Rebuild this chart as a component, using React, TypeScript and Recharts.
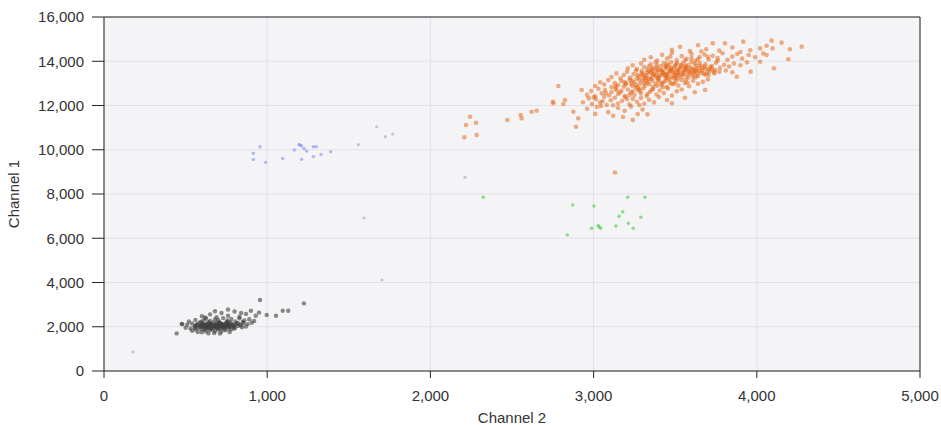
import React from 'react';
import { ScatterChart, Scatter, XAxis, YAxis, CartesianGrid, Label, ReferenceLine } from 'recharts';

const xTicks = [0, 1000, 2000, 3000, 4000, 5000];
const yTicks = [0, 2000, 4000, 6000, 8000, 10000, 12000, 14000, 16000];

const grayPoints: [number, number][] = [
  [540,1820],[575,1760],[600,1880],[625,1790],[650,1850],[675,1720],[700,1870],[720,1780],[745,1840],[770,1760],[600,1750],[680,1810],[640,1700],[710,1690],[560,1870],
  [500,1960],[530,1920],[555,2010],[580,1940],[600,2040],[615,1910],[630,1990],[645,2030],[660,1930],[675,2000],[690,1950],[705,2040],[720,1910],[735,1990],[750,2020],[765,1940],[780,2000],[800,1960],[820,2030],[845,1980],[870,2010],[590,1990],[650,1970],[710,1980],[760,2040],[620,2020],[680,2040],[730,1950],[560,1950],[800,1920],
  [480,2120],[510,2090],[540,2150],[565,2070],[585,2180],[605,2110],[620,2060],[640,2160],[655,2090],[670,2190],[685,2060],[700,2130],[715,2170],[730,2080],[745,2150],[760,2100],[775,2190],[790,2070],[810,2140],[830,2100],[855,2170],[880,2120],[905,2180],[600,2150],[660,2130],[720,2110],[780,2130],[630,2090],[690,2170],[750,2190],[570,2120],[840,2060],
  [520,2240],[560,2310],[595,2230],[625,2370],[650,2260],[680,2330],[705,2220],[730,2390],[755,2280],[780,2350],[805,2240],[830,2380],[860,2290],[890,2340],[920,2260],[700,2300],[640,2210],[760,2230],[610,2290],[850,2220],
  [600,2480],[650,2560],[690,2430],[720,2620],[760,2500],[800,2690],[830,2450],[870,2580],[900,2720],[930,2500],[680,2700],[760,2780],[840,2620],[620,2420],[950,2640],
  [590,2030],[610,2080],[630,1950],[650,2110],[670,2020],[690,2090],[710,2010],[730,2120],[750,2060],[770,2050],[620,1880],[660,1890],[700,1920],[740,1900],[780,1880],[600,2000],[640,2060],[680,1980],[720,2060],[760,1990],[800,2080],[580,2090],[640,1930],[700,2070],[740,2030],[790,2020],[560,2030],[670,2070],[710,2140],[650,2000],[690,2010],[620,2130],[730,2030],[760,2150],[820,2170],
  [445,1700],[476,2124],[956,3209],[997,2531],[1054,2500],[1095,2725],[1129,2725],[1225,3058],
];

const faintPoints: [number, number][] = [
  [178,860],[1593,6915],[1703,4113],[2212,8753],[1559,10230],[1671,11040],[1724,10590],[1769,10710],
];

const bluePoints: [number, number][] = [
  [956,10138],[915,9840],[915,9560],[990,9430],[1095,9610],[1201,10215],[1210,10180],[1195,10240],[1166,9990],[1242,9944],[1211,9565],[1283,10138],[1300,10140],[1283,9688],[1330,9790],[1389,9910],[1225,10060],
];

const greenPoints: [number, number][] = [
  [2324,7850],[2872,7500],[3002,7458],[3209,7850],[3315,7850],[3178,7200],[3156,6990],[3035,6520],[3043,6450],[3028,6560],[2988,6450],[3137,6554],[3213,6674],[3243,6450],[3290,6947],[2839,6147],
];

const orangePoints: [number, number][] = [
  [2208,10560],[2283,10670],[2218,11120],[2279,11220],[2243,11490],[2471,11345],[2553,11570],[2559,11420],[2620,11720],[2651,11765],[2753,12100],[2815,12068],[2825,12250],[2784,12880],[2876,11720],[2927,12700],[2892,11040],[2906,11420],[3131,8970],[2751,12170],
  [2960,11850],[3010,11620],[3045,11980],[3090,11700],[3120,11540],[3150,11890],[3190,11760],[3230,11950],[3270,11610],[3020,11930],[3180,11480],[3300,11820],
  [2935,12150],[2970,12320],[2990,12060],[3015,12280],[3040,12130],[3065,12390],[3080,12020],[3105,12240],[3130,12350],[3150,12090],[3175,12210],[3195,12380],[3220,12050],[3240,12300],[3265,12170],[3290,12340],[3310,12080],[3340,12260],[3370,12140],[3400,12380],[3000,12370],[3055,12190],[3120,12010],[3205,12290],[3280,12020],
  [2960,12480],[2985,12650],[3010,12420],[3030,12760],[3050,12550],[3070,12700],[3095,12460],[3110,12610],[3135,12780],[3150,12510],[3170,12660],[3190,12430],[3210,12720],[3230,12580],[3250,12470],[3270,12690],[3290,12540],[3305,12780],[3325,12430],[3345,12620],[3365,12750],[3385,12500],[3405,12680],[3430,12560],[3455,12770],[3480,12450],[3510,12640],[3540,12720],[3075,12560],[3160,12590],[3240,12640],[3330,12520],[3220,12480],[3140,12700],[3280,12760],
  [3010,12880],[3040,13050],[3065,12950],[3090,13150],[3110,12830],[3130,13020],[3150,12920],[3170,13110],[3185,12860],[3200,13000],[3220,13170],[3235,12900],[3250,13060],[3270,12820],[3285,12980],[3300,13130],[3315,12890],[3330,13040],[3350,13190],[3365,12850],[3380,12990],[3400,13100],[3415,12930],[3430,13060],[3450,12840],[3465,13180],[3480,12960],[3500,13080],[3520,12900],[3540,13150],[3560,13010],[3585,12870],[3610,13120],[3640,12980],[3670,13070],[3700,13180],[3260,12940],[3340,12960],[3420,13020],[3190,13060],[3310,13000],[3390,12890],[3470,13030],[3230,12990],[3360,13120],
  [3110,13290],[3140,13450],[3165,13230],[3185,13380],[3205,13520],[3225,13260],[3245,13420],[3260,13580],[3280,13310],[3295,13470],[3310,13220],[3325,13360],[3340,13540],[3355,13280],[3370,13430],[3385,13590],[3400,13250],[3415,13380],[3430,13500],[3445,13320],[3460,13460],[3475,13580],[3490,13240],[3505,13390],[3520,13530],[3535,13300],[3550,13450],[3565,13570],[3580,13270],[3600,13410],[3620,13540],[3640,13330],[3660,13480],[3685,13390],[3710,13560],[3740,13450],[3770,13520],[3810,13580],[3850,13500],[3300,13400],[3350,13480],[3400,13330],[3450,13420],[3500,13350],[3550,13380],[3420,13560],[3480,13310],[3380,13360],[3320,13260],[3440,13240],[3520,13460],[3590,13500],[3360,13560],[3270,13380],[3610,13300],
  [3210,13680],[3240,13820],[3265,13650],[3290,13900],[3310,13740],[3330,13620],[3350,13860],[3365,13700],[3380,13950],[3400,13640],[3415,13780],[3430,13920],[3445,13670],[3460,13810],[3475,13960],[3490,13700],[3505,13850],[3520,13630],[3535,13760],[3550,13910],[3565,13690],[3580,13830],[3600,13970],[3615,13650],[3630,13790],[3650,13920],[3665,13710],[3685,13860],[3705,13640],[3725,13780],[3750,13930],[3775,13700],[3800,13840],[3830,13760],[3860,13900],[3900,13820],[3940,13950],[3440,13740],[3500,13780],[3560,13730],[3620,13880],[3470,13640],[3530,13700],[3390,13820],[3580,13650],[3680,13760],[3450,13880],[3340,13760],[3510,13920],[3640,13680],
  [3310,14060],[3350,14180],[3390,14030],[3420,14290],[3450,14120],[3480,14380],[3510,14050],[3540,14230],[3570,14110],[3600,14340],[3625,14020],[3650,14190],[3680,14300],[3705,14080],[3730,14250],[3760,14140],[3790,14360],[3820,14060],[3850,14210],[3880,14330],[3910,14120],[3950,14280],[3990,14180],[4040,14350],[3560,14040],[3640,14100],[3700,14200],[3470,14210],[3600,14150],[3760,14020],
  [3480,14520],[3530,14650],[3590,14460],[3640,14720],[3690,14540],[3730,14810],[3770,14480],[3805,14810],[3850,14620],[3917,14885],[3960,14500],[4020,14580],[4060,14700],[4091,14930],[4097,14580],[4152,14840],[4203,14540],[4275,14660],[3660,14440],[3900,14420],
  [4193,14090],[4105,13680],[3962,13530],[4020,13980],[3877,13300],[3683,12700],[4060,14280],[3560,12350],[3480,12100],[3620,12600],[3330,11600],[3450,12250],[3240,11350],
  [3280,13150],[3305,13330],[3335,13210],[3365,13390],[3395,13170],[3425,13450],[3455,13270],[3485,13500],[3515,13190],[3545,13520],[3575,13390],[3605,13620],[3635,13440],[3665,13590],[3695,13480],[3725,13660],[3355,13640],[3385,13720],[3415,13600],[3445,13780],[3475,13700],[3505,13600],[3535,13840],[3565,13780],[3595,13720],[3625,13580],[3655,13800],[3685,13660],[3715,13740],[3745,13600],[3295,13560],[3325,13480],[3395,13510],[3435,13380],[3465,13560],[3495,13470],[3525,13380],[3555,13600],[3585,13540],[3615,13460],[3645,13560],[3675,13440],[3705,13380],[3735,13520],[3265,13230],[3325,13100],[3385,13260],[3445,13130],[3505,13240],[3565,13180],[3625,13280],[3235,13120],[3195,12960],[3255,12820],[3135,12880],[3285,12660],[3355,12700],[3425,12820],[3495,12980],[3575,13040],
];

const toData = (pts: [number, number][]) => pts.map(([x, y]) => ({ x, y }));

const dot = (color: string, opacity: number, r: number) => (p: any) => (
  <circle cx={p.cx} cy={p.cy} r={r} fill={color} fillOpacity={opacity} />
);

const fmt = (v: number) => v.toLocaleString('en-US');
const font = 'Liberation Sans, Arial, sans-serif';
const tickStyle = { fill: '#333', fontSize: 15, fontFamily: font };

export default function App() {
  return (
    <div style={{ position: 'absolute', left: 0, top: 0, width: 941, height: 425, background: '#fff' }}>
      <ScatterChart width={941} height={425} margin={{ top: 17, right: 21, bottom: 0, left: 0 }}>
        <CartesianGrid fill="#f4f4f7" stroke="#e2e2e7" horizontalValues={yTicks} verticalValues={xTicks} />
        <XAxis
          type="number"
          dataKey="x"
          domain={[0, 5000]}
          ticks={xTicks}
          tickFormatter={fmt}
          tick={tickStyle}
          tickSize={7}
          tickMargin={12}
          height={54}
          stroke="#222"
          allowDataOverflow
        >
          <Label value="Channel 2" position="insideBottom" offset={2} style={{ fill: '#333', fontSize: 15, fontFamily: font }} />
        </XAxis>
        <YAxis
          type="number"
          dataKey="y"
          domain={[0, 16000]}
          ticks={yTicks}
          tickFormatter={fmt}
          tick={tickStyle}
          tickSize={12}
          tickMargin={8}
          width={104}
          stroke="#222"
          allowDataOverflow
        >
          <Label value="Channel 1" angle={-90} position="insideLeft" offset={14} style={{ fill: '#333', fontSize: 15, fontFamily: font, textAnchor: 'middle' }} />
        </YAxis>
        <ReferenceLine y={16000} stroke="#222" strokeWidth={1} ifOverflow="extendDomain" />
        <ReferenceLine x={5000} stroke="#222" strokeWidth={1} ifOverflow="extendDomain" />
        <Scatter data={toData(grayPoints)} shape={dot('#404040', 0.6, 2.2)} isAnimationActive={false} />
        <Scatter data={toData(faintPoints)} shape={dot('#8a8a9a', 0.45, 1.6)} isAnimationActive={false} />
        <Scatter data={toData(bluePoints)} shape={dot('#7d8ff0', 0.6, 1.7)} isAnimationActive={false} />
        <Scatter data={toData(greenPoints)} shape={dot('#4fd24f', 0.65, 1.8)} isAnimationActive={false} />
        <Scatter data={toData(orangePoints)} shape={dot('#e5600a', 0.5, 2.3)} isAnimationActive={false} />
      </ScatterChart>
    </div>
  );
}
